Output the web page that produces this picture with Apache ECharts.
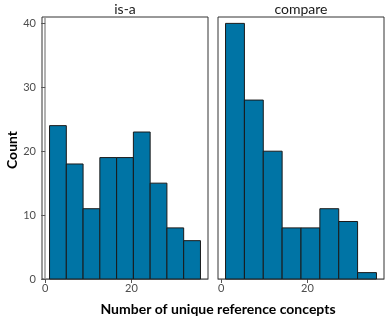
<!DOCTYPE html>
<html><head><meta charset="utf-8">
<script src="https://cdn.jsdelivr.net/npm/echarts@6/dist/echarts.min.js"></script>
<style>html,body{margin:0;padding:0;background:#fff}#c{width:391px;height:320px}</style>
</head><body><div id="c"></div>
<script>
var facets = ['is-a', 'compare'];
var isaCounts = [24, 18, 11, 19, 19, 23, 15, 8, 6];
var compareCounts = [40, 28, 20, 8, 8, 11, 9, 1];
var binRange = [1, 36];
var xTicks = [0, 20];
var yTicks = [0, 10, 20, 30, 40];
var xTitle = 'Number of unique reference concepts';
var yTitle = 'Count';

function toBins(counts) {
  var w = (binRange[1] - binRange[0]) / counts.length;
  return counts.map(function (c, i) {
    return [binRange[0] + i * w, binRange[0] + (i + 1) * w, c];
  });
}
var FONT = 'Lato';
var chart = echarts.init(document.getElementById('c'), null, {renderer: 'canvas'});
var grids = [
  {left: 42, top: 17, width: 166, height: 262, show: true, borderColor: '#333', borderWidth: 1},
  {left: 218, top: 17, width: 166, height: 262, show: true, borderColor: '#333', borderWidth: 1}
];
function xAxis(i) {
  return {
    type: 'value', gridIndex: i, min: -0.75, max: 37.75,
    splitLine: {show: false},
    axisLine: {show: true, lineStyle: {color: '#777', width: 1}},
    axisTick: {show: true, length: 4, lineStyle: {color: '#555'}, customValues: xTicks},
    axisLabel: {customValues: xTicks, color: '#4d4d4d', fontFamily: FONT, fontSize: 11, margin: 4}
  };
}
function yAxis(i) {
  return {
    type: 'value', gridIndex: i, min: 0, max: 41,
    splitLine: {show: false},
    axisLine: {show: i === 0, lineStyle: {color: '#999', width: 1.5}},
    axisTick: {show: i === 0, length: 4, lineStyle: {color: '#555'}, customValues: yTicks},
    axisLabel: {show: i === 0, customValues: yTicks, color: '#4d4d4d', fontFamily: FONT, fontSize: 11, margin: 6}
  };
}
function histSeries(i, counts) {
  return {
    type: 'custom', xAxisIndex: i, yAxisIndex: i,
    data: toBins(counts),
    renderItem: function (params, api) {
      var p0 = api.coord([api.value(0), api.value(2)]);
      var p1 = api.coord([api.value(1), 0]);
      return {
        type: 'rect',
        shape: {x: p0[0], y: p0[1], width: p1[0] - p0[0], height: p1[1] - p0[1]},
        style: {fill: '#0074A5', stroke: '#1a1a1a', lineWidth: 1}
      };
    }
  };
}
chart.setOption({
  animation: false,
  grid: grids,
  xAxis: [xAxis(0), xAxis(1)],
  yAxis: [yAxis(0), yAxis(1)],
  series: [histSeries(0, isaCounts), histSeries(1, compareCounts)],
  graphic: [
    {type: 'text', style: {text: facets[0], x: 125, y: 9, align: 'center', verticalAlign: 'middle', font: '14px Lato', fill: '#1a1a1a'}},
    {type: 'text', style: {text: facets[1], x: 301, y: 9, align: 'center', verticalAlign: 'middle', font: '14px Lato', fill: '#1a1a1a'}},
    {type: 'text', style: {text: xTitle, x: 218, y: 309, align: 'center', verticalAlign: 'middle', font: 'bold 14px Lato', fill: '#000'}},
    {type: 'text', rotation: Math.PI / 2, x: 12, y: 150, style: {text: yTitle, x: 0, y: 0, align: 'center', verticalAlign: 'middle', font: 'bold 14px Lato', fill: '#000'}}
  ]
});
</script></body></html>
